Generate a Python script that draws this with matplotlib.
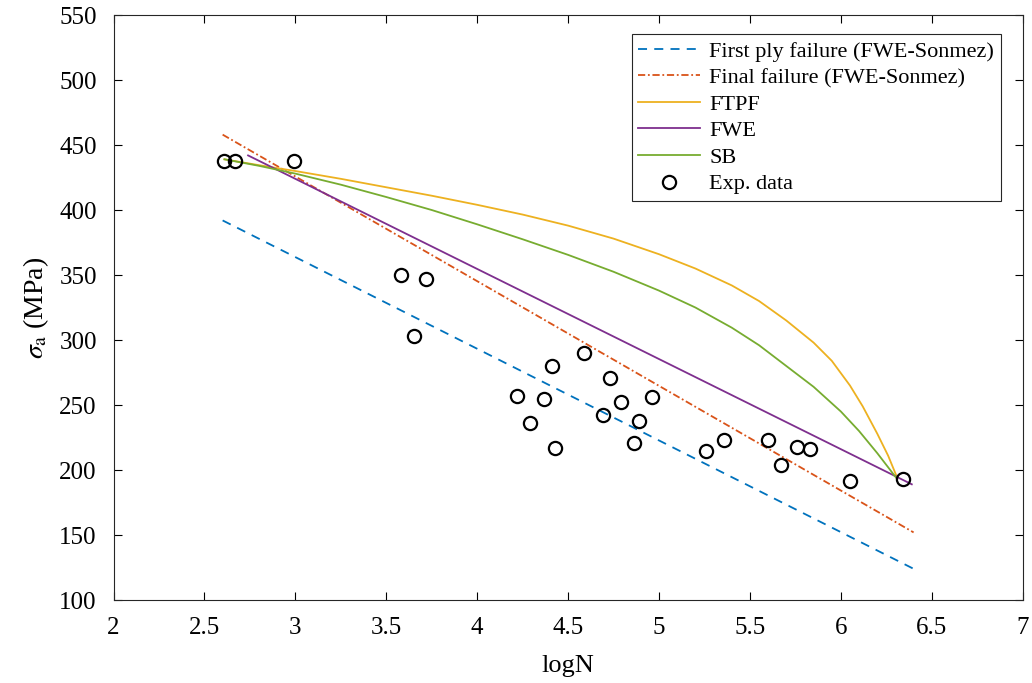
import matplotlib
matplotlib.use("Agg")
import matplotlib.pyplot as plt
import numpy as np

# experimental data (logN, stress amplitude MPa)
exp_logN = [2.61, 2.67, 2.99, 3.58, 3.72, 3.65, 4.22, 4.29, 4.37, 4.41, 4.43, 4.59,
            4.69, 4.73, 4.79, 4.86, 4.89, 4.96, 5.26, 5.36, 5.60, 5.67, 5.76, 5.83,
            6.05, 6.34]
exp_sigma = [438, 438, 438, 350, 347, 303, 257, 236, 255, 280, 217, 290,
             242, 271, 252, 221, 238, 256, 215, 223, 223, 204, 218, 216,
             191.5, 193]

# FWE-Sonmez lines
fpf_logN = [2.6, 6.4]
fpf_sigma = [392, 124]
ff_logN = [2.6, 6.4]
ff_sigma = [458, 152]

# FWE model
fwe_logN = [2.74, 6.39]
fwe_sigma = [442, 189]

# FTPF model
ftpf_logN = [2.61, 2.80, 3.00, 3.25, 3.50, 3.75, 4.00, 4.25, 4.50, 4.75, 5.00, 5.20,
             5.40, 5.55, 5.70, 5.85, 5.95, 6.05, 6.12, 6.20, 6.26, 6.31]
ftpf_sigma = [439, 434.5, 430, 424, 417.5, 411, 404, 396.5, 388, 378, 366, 355,
              342, 330, 315, 298, 284, 265, 249, 228, 211, 194]

# SB model
sb_logN = [2.61, 2.80, 3.00, 3.25, 3.50, 3.75, 4.00, 4.25, 4.50, 4.75, 5.00, 5.20,
           5.40, 5.55, 5.70, 5.85, 6.00, 6.10, 6.20, 6.31]
sb_sigma = [439, 434, 428, 419.5, 410, 400, 389, 377.5, 365.5, 352.5, 338, 325,
            309.5, 296, 280, 264, 245, 230, 213, 193]

plt.rcParams['font.family'] = ['Liberation Serif', 'DejaVu Serif']
plt.rcParams['mathtext.fontset'] = 'stix'

fig = plt.figure(figsize=(10.32, 6.83), dpi=100)
ax = fig.add_axes([0.11, 0.1215, 0.881, 0.8565])

ax.plot(fpf_logN, fpf_sigma, color='#0072BD', lw=1.3, ls=(0, (5, 4)),
        label='First ply failure (FWE-Sonmez)')
ax.plot(ff_logN, ff_sigma, color='#D95319', lw=1.3, ls=(0, (4, 1.5, 1, 1.5)),
        label='Final failure (FWE-Sonmez)')
ax.plot(ftpf_logN, ftpf_sigma, color='#EDB120', lw=1.3, label='FTPF')
ax.plot(fwe_logN, fwe_sigma, color='#7E2F8E', lw=1.3, label='FWE')
ax.plot(sb_logN, sb_sigma, color='#77AC30', lw=1.3, label='SB')
ax.plot(exp_logN, exp_sigma, 'o', mfc='none', mec='black', mew=1.6, ms=9.5,
        label='Exp. data')

ax.set_xlim(2, 7)
ax.set_ylim(100, 550)
ax.set_xticks(np.arange(2, 7.01, 0.5))
ax.set_xticklabels(['2', '2.5', '3', '3.5', '4', '4.5', '5', '5.5', '6', '6.5', '7'])
ax.set_yticks(np.arange(100, 551, 50))
ax.tick_params(direction='in', top=True, right=True, labelsize=18, length=6,
               width=0.8, pad=12)
for s in ax.spines.values():
    s.set_linewidth(0.8)
    s.set_color('#262626')

ax.set_xlabel('logN', fontsize=19, labelpad=12)
ax.set_ylabel(r'$\sigma_{\rm a}$ (MPa)', fontsize=20, labelpad=6)

leg = ax.legend(loc='upper right', bbox_to_anchor=(0.976, 0.967), fontsize=16,
                fancybox=False, edgecolor='#262626', framealpha=1,
                handlelength=2.8, handletextpad=0.4, labelspacing=0.27,
                borderpad=0.3, borderaxespad=0)
leg.get_frame().set_linewidth(0.8)

fig.savefig('out.png', dpi=100)
